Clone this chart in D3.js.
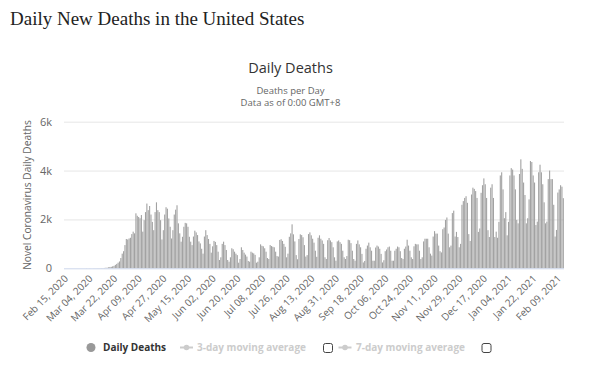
<!DOCTYPE html>
<html><head><meta charset="utf-8">
<script src="https://cdn.jsdelivr.net/npm/d3@7"></script>
<style>
body{margin:0;background:#fff;}
svg{display:block;}
</style></head><body>
<svg id="c" width="595" height="369"></svg>
<script>
// ---- data ----
const startDate = "2020-02-15";
const deaths = [
0,0,0,0,0,0,0, 0,0,0,0,0,0,0,
1,0,5,1,3,2,1, 3,4,4,5,8,7,10,
10,15,22,25,40,55,60,
80,100,140,180,230,280,420,
600,700,950,1200,1180,1220,1250,
1400,1500,1430,2250,2150,2100,2050,
2180,1500,1970,2300,2650,2380,2550,
2200,1900,1560,2300,2700,2380,2300,
1970,1180,1560,2200,2500,2440,2040,
1700,1220,1560,2200,2400,2580,1840,
1430,1090,1290,1700,1860,1840,1700,
1290,1090,950,1300,1540,1470,1360,
1100,1020,800,600,1300,1560,1360,
1200,1000,640,900,1120,1080,950,
680,340,450,1000,1090,950,750,
340,270,450,820,780,680,600,
540,230,380,860,750,640,560,
480,300,270,680,640,610,550,
230,270,450,980,920,900,820,
680,420,380,950,910,880,860,
680,500,480,1160,1190,1120,1000,
880,450,600,1290,1430,1800,1390,
1100,540,370,1200,1390,1360,1270,
950,480,540,1400,1470,1350,1210,
1050,720,470,1250,1350,1210,1140,
1000,450,380,1150,1240,1140,1070,
860,450,310,1100,1140,1070,1000,
720,450,380,500,1170,1150,1030,
720,380,310,1000,1140,980,860,
590,240,300,800,930,1050,860,
720,310,310,850,930,890,800,
590,240,330,700,770,860,890,
720,310,310,720,800,890,860,
700,420,380,800,890,1170,930,
720,450,380,900,1000,980,980,
720,380,450,1100,1210,1210,1210,
860,600,520,1300,1520,1420,1420,
930,700,650,1600,1670,1980,2080,
1420,860,930,2260,2360,1300,1490,
1280,860,1000,2600,2750,2880,2950,
2680,1400,1120,3020,3300,3250,3160,
2880,1490,1630,3090,3400,3680,3440,
2880,1560,1280,3300,3440,2880,1280,
1500,1250,1900,3800,3930,3230,2050,
2300,1350,1900,3800,4100,4040,3800,
3230,1980,1840,3860,4460,4070,3510,
3000,1840,2050,2820,4390,4350,3800,
3510,1770,1910,3930,4240,3930,3440,
2700,1840,1910,3650,4000,3650,3650,
2600,1300,1570,3100,3230,3400,3340,
2870
];
const tickLabels = ["Feb 15, 2020","Mar 04, 2020","Mar 22, 2020","Apr 09, 2020","Apr 27, 2020",
"May 15, 2020","Jun 02, 2020","Jun 20, 2020","Jul 08, 2020","Jul 26, 2020","Aug 13, 2020",
"Aug 31, 2020","Sep 18, 2020","Oct 06, 2020","Oct 24, 2020","Nov 11, 2020","Nov 29, 2020",
"Dec 17, 2020","Jan 04, 2021","Jan 22, 2021","Feb 09, 2021"];
const yTicks = [0,2000,4000,6000];
const pageTitle = "Daily New Deaths in the United States";
const chartTitle = "Daily Deaths";
const subtitleLines = ["Deaths per Day","Data as of 0:00 GMT+8"];
const yTitle = "Novel Coronavirus Daily Deaths";
const legendNames = ["Daily Deaths","3-day moving average","7-day moving average"];

// ---- build ----
const parse = d3.timeParse("%Y-%m-%d");
const fmt = d3.timeFormat("%b %d, %Y");
const t0 = parse(startDate);
const categories = deaths.map((_, i) => fmt(d3.timeDay.offset(t0, i)));
const rows = categories.map((c, i) => ({c, v: deaths[i]}));

const svg = d3.select("#c");
const F = "'Open Sans', sans-serif";
const L = 64, R = 564, T = 121.7, B = 268.3;

const x = d3.scaleBand().domain(categories).range([L, R]).paddingInner(0.2).paddingOuter(0.1);
const y = d3.scaleLinear().domain([0, 6000]).range([B, T]);

svg.append("text").attr("x", 10).attr("y", 25).attr("font-family", "'Liberation Serif', serif")
  .attr("font-size", 19).attr("fill", "#222").text(pageTitle);

svg.append("text").attr("x", 290.5).attr("y", 73).attr("text-anchor", "middle")
  .attr("font-family", F).attr("font-size", 14.5).attr("fill", "#333").text(chartTitle);
svg.selectAll("text.sub").data(subtitleLines).join("text").attr("class", "sub")
  .attr("x", 290.5).attr("y", (d, i) => 93.5 + i * 12).attr("text-anchor", "middle")
  .attr("font-family", F).attr("font-size", 9.5).attr("fill", "#666").text(d => d);

// grid
const yAxis = d3.axisLeft(y).tickValues(yTicks).tickSize(-(R - L))
  .tickFormat(d => d === 0 ? "0" : (d / 1000) + "k");
const gy = svg.append("g").attr("transform", `translate(${L},0)`).call(yAxis);
gy.select(".domain").remove();
gy.selectAll(".tick line").attr("stroke", "#e6e6e6").filter(d => d === 0).remove();
gy.selectAll(".tick text").attr("x", -12).attr("font-family", F).attr("font-size", 11).attr("fill", "#666");

svg.append("text").attr("transform", `translate(27,${(T + B) / 2}) rotate(-90)`)
  .attr("text-anchor", "middle").attr("dy", "0.35em").attr("font-family", F).attr("font-size", 10.2)
  .attr("fill", "#666").text(yTitle);

// bars
svg.append("g").selectAll("rect").data(rows).join("rect")
  .attr("x", d => x(d.c)).attr("width", x.bandwidth())
  .attr("y", d => y(d.v)).attr("height", d => y(0) - y(d.v))
  .attr("fill", "#a2a2a2");

// x axis
const xAxis = d3.axisBottom(x).tickValues(tickLabels).tickSize(0).tickPadding(0);
const gx = svg.append("g").attr("transform", `translate(0,${B})`).call(xAxis);
gx.select(".domain").attr("stroke", "#ccd6eb").attr("d", `M${L},0.5H${R}`);
gx.selectAll(".tick text").attr("font-family", F).attr("font-size", 10).attr("fill", "#666")
  .attr("text-anchor", "end").attr("y", 0).attr("dy", 0)
  .attr("transform", "translate(4,11) rotate(-45)");

// legend
const ly = 347.5;
const lg = svg.append("g");
lg.append("circle").attr("cx", 91).attr("cy", ly).attr("r", 4.5).attr("fill", "#999");
lg.append("text").attr("x", 103).attr("y", ly + 3.5).attr("font-family", F).attr("font-size", 10)
  .attr("font-weight", "bold").attr("fill", "#333").text(legendNames[0]);
const items = [{sx: 180, tx: 197, cb: 323.5}, {sx: 338.5, tx: 356, cb: 482}];
items.forEach((it, i) => {
  lg.append("line").attr("x1", it.sx).attr("x2", it.sx + 13).attr("y1", ly).attr("y2", ly)
    .attr("stroke", "#ccc").attr("stroke-width", 2);
  lg.append("circle").attr("cx", it.sx + 6.5).attr("cy", ly).attr("r", 2.8).attr("fill", "#ccc");
  lg.append("text").attr("x", it.tx).attr("y", ly + 3.5).attr("font-family", F).attr("font-size", 10)
    .attr("font-weight", "bold").attr("fill", "#ccc").text(legendNames[i + 1]);
  lg.append("rect").attr("x", it.cb).attr("y", 343.5).attr("width", 9).attr("height", 9)
    .attr("rx", 2).attr("fill", "#fff").attr("stroke", "#444").attr("stroke-width", 1);
});
</script>
</body></html>
